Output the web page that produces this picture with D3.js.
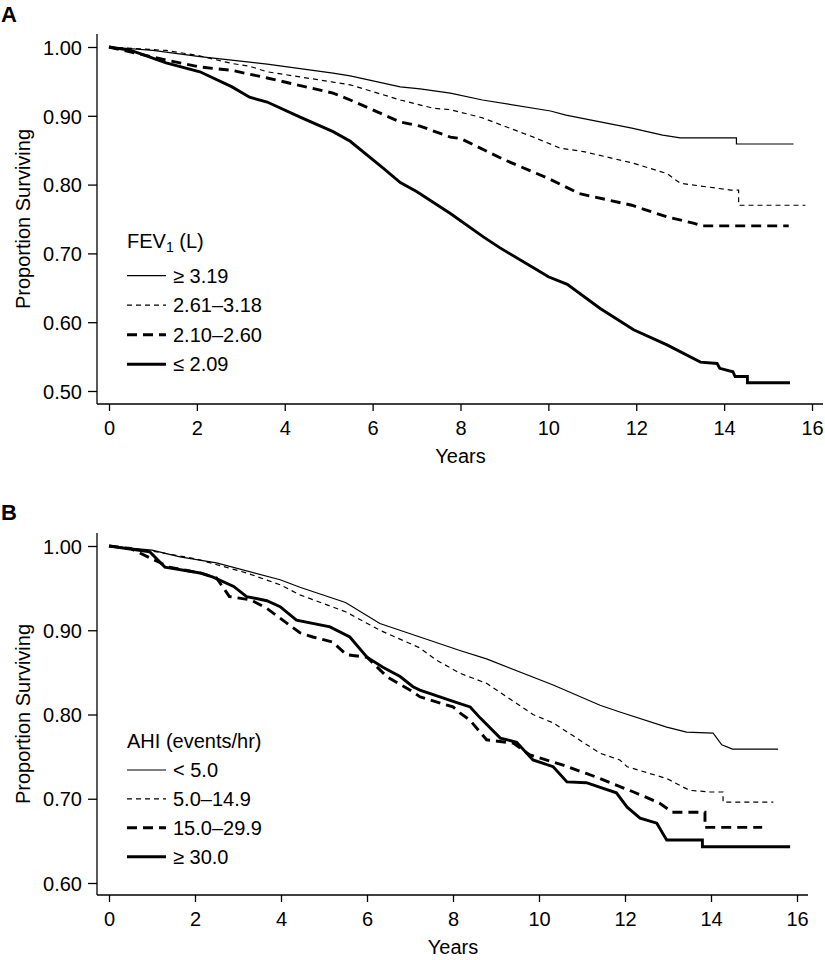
<!DOCTYPE html>
<html><head><meta charset="utf-8">
<script src="https://cdn.jsdelivr.net/npm/d3@7"></script>
<style>
body{margin:0;background:#fff;}
text{font-family:"Liberation Sans",Arial,Helvetica,sans-serif;fill:#000;}
</style></head>
<body>
<svg id="chart" width="825" height="960"></svg>
<script>
// ---------- DATA ----------
const xTicks = [0,2,4,6,8,10,12,14,16];
const yTicksA = [0.5,0.6,0.7,0.8,0.9,1.0];
const yTicksB = [0.6,0.7,0.8,0.9,1.0];

const legendA = ["\u2265 3.19","2.61\u20133.18","2.10\u20132.60","\u2264 2.09"];
const legendB = ["< 5.0","5.0\u201314.9","15.0\u201329.9","\u2265 30.0"];

// Panel A: FEV1 groups  [years, proportion surviving]
const fevHigh = [[0,1],[1.0,0.995],[2.07,0.986],[3.2,0.978],[3.6,0.975],[5.1,0.962],[5.49,0.958],[6.63,0.942],[7.08,0.939],[7.77,0.933],[8.5,0.923],[10.05,0.907],[10.4,0.901],[11.9,0.882],[12.6,0.872],[13.0,0.868],[14.28,0.868],[14.28,0.859],[15.58,0.859]];
const fevMid = [[0,1],[1.3,0.995],[2.0,0.988],[2.8,0.976],[3.2,0.972],[3.6,0.964],[5.1,0.949],[5.49,0.945],[6.63,0.923],[7.38,0.911],[7.77,0.909],[8.5,0.897],[9.66,0.869],[10.27,0.853],[10.8,0.848],[11.94,0.831],[12.7,0.816],[13.0,0.802],[14.15,0.792],[14.33,0.792],[14.33,0.770],[15.85,0.770]];
const fevLow = [[0,1],[1.3,0.981],[2.07,0.971],[2.8,0.966],[3.6,0.955],[5.1,0.933],[5.49,0.923],[6.63,0.891],[7.08,0.885],[7.77,0.869],[8.0,0.867],[9.0,0.836],[10.0,0.809],[10.7,0.787],[11.9,0.770],[12.7,0.753],[13.3,0.744],[13.5,0.740],[15.47,0.740]];
const fevVLow = [[0,1],[0.5,0.995],[1.3,0.977],[2.07,0.964],[2.8,0.942],[3.2,0.927],[3.6,0.920],[4.35,0.898],[5.1,0.877],[5.49,0.863],[6.24,0.824],[6.63,0.803],[7.0,0.790],[7.77,0.758],[8.52,0.724],[8.9,0.708],[9.66,0.679],[10.0,0.666],[10.43,0.655],[11.18,0.620],[11.94,0.589],[12.7,0.567],[13.46,0.542],[13.84,0.540],[13.9,0.533],[14.2,0.528],[14.25,0.521],[14.53,0.521],[14.53,0.512],[15.5,0.512]];

// Panel B: AHI groups
const ahi1 = [[0,1],[1.0,0.995],[1.65,0.987],[2.5,0.980],[3.98,0.960],[4.44,0.951],[5.5,0.933],[6.3,0.908],[7.23,0.892],[8.16,0.876],[8.78,0.866],[10.33,0.835],[11.42,0.811],[11.88,0.803],[12.97,0.785],[13.43,0.779],[14.05,0.778],[14.25,0.764],[14.5,0.759],[15.56,0.759]];
const ahi2 = [[0,1],[1.0,0.994],[2.0,0.985],[3.2,0.968],[3.98,0.954],[4.44,0.942],[5.5,0.922],[6.3,0.900],[7.23,0.879],[7.6,0.865],[8.16,0.849],[8.78,0.837],[9.86,0.800],[10.33,0.790],[11.42,0.754],[11.88,0.746],[12.05,0.738],[12.97,0.724],[13.5,0.710],[13.98,0.708],[14.28,0.708],[14.28,0.696],[15.45,0.696]];
const ahi3 = [[0,1],[0.5,0.997],[1.4,0.975],[2.12,0.968],[2.5,0.962],[2.8,0.940],[3.3,0.936],[3.67,0.926],[4.44,0.897],[4.74,0.892],[5.2,0.886],[5.52,0.871],[6.0,0.868],[6.46,0.845],[7.07,0.827],[7.23,0.821],[8.0,0.809],[8.16,0.802],[8.4,0.793],[8.78,0.770],[9.4,0.766],[9.79,0.752],[10.56,0.740],[11.1,0.730],[11.42,0.724],[12.2,0.708],[12.8,0.695],[13.1,0.684],[13.86,0.684],[13.86,0.666],[15.19,0.666]];
const ahi4 = [[0,1],[0.95,0.993],[1.3,0.975],[2.12,0.968],[2.42,0.963],[2.9,0.952],[3.2,0.940],[3.67,0.935],[3.98,0.928],[4.36,0.912],[5.14,0.904],[5.6,0.892],[6.0,0.868],[6.37,0.856],[6.77,0.845],[7.07,0.833],[7.23,0.829],[8.16,0.813],[8.4,0.809],[8.63,0.796],[9.1,0.772],[9.48,0.767],[9.86,0.746],[10.33,0.738],[10.65,0.720],[11.1,0.719],[11.8,0.707],[12.05,0.690],[12.35,0.677],[12.74,0.671],[12.9,0.657],[12.97,0.651],[13.8,0.651],[13.8,0.643],[15.84,0.643]];

// ---------- STYLES ----------
const styles = [
  {w:1.2, dash:null},
  {w:1.2, dash:"5,4"},
  {w:2.9, dash:"10,6"},
  {w:2.9, dash:null}
];

const svg = d3.select("#chart");
const FS = 20;

function panel(cfg){
  const g = svg.append("g");
  const x = d3.scaleLinear().domain([0,16]).range([109, cfg.x16]);
  const y = d3.scaleLinear().domain(cfg.yDom).range(cfg.yRange);

  // axis lines (L shape)
  g.append("line").attr("x1",97).attr("x2",97).attr("y1",cfg.axTop).attr("y2",cfg.axBot)
    .attr("stroke","#000").attr("stroke-width",1.3);
  g.append("line").attr("x1",97).attr("x2",cfg.axRight).attr("y1",cfg.axBot).attr("y2",cfg.axBot)
    .attr("stroke","#000").attr("stroke-width",1.3);

  const xa = g.append("g").attr("transform",`translate(0,${cfg.axBot})`)
    .call(d3.axisBottom(x).tickValues(xTicks).tickSize(7).tickPadding(10).tickFormat(d3.format("d")));
  xa.select(".domain").remove();
  xa.selectAll("line").attr("stroke","#000").attr("stroke-width",1.3);
  xa.selectAll("text").attr("font-size",FS).attr("dy",null).attr("y",31).attr("font-family",null);

  const ya = g.append("g").attr("transform","translate(97,0)")
    .call(d3.axisLeft(y).tickValues(cfg.yTicks).tickSize(9).tickPadding(6).tickFormat(d3.format(".2f")));
  ya.select(".domain").remove();
  ya.selectAll("line").attr("stroke","#000").attr("stroke-width",1.3);
  ya.selectAll("text").attr("font-size",FS).attr("font-family",null).attr("x",-15).attr("dy","0.36em");

  g.append("text").attr("x",(109+cfg.x16)/2).attr("y",cfg.axBot+59).attr("text-anchor","middle")
    .attr("font-size",FS).text("Years");
  g.append("text").attr("transform",`translate(30,${(cfg.axTop+cfg.axBot)/2}) rotate(-90)`)
    .attr("text-anchor","middle").attr("font-size",FS).text("Proportion Surviving");

  g.append("text").attr("x",1).attr("y",cfg.letterY).attr("font-size",22).attr("font-weight","bold").text(cfg.letter);

  const line = d3.line().x(d=>x(d[0])).y(d=>y(d[1])).curve(d3.curveLinear);
  cfg.series.forEach((s,i)=>{
    g.append("path").datum(s).attr("d",line).attr("fill","none").attr("stroke","#000")
      .attr("stroke-width",styles[i].w).attr("stroke-dasharray",styles[i].dash)
      .attr("stroke-linejoin","miter");
  });

  const lg = g.append("g");
  const title = lg.append("text").attr("x",127).attr("y",cfg.legTitleY).attr("font-size",FS);
  cfg.legTitle(title);
  cfg.labels.forEach((lab,i)=>{
    const ly = cfg.legY0 + i*cfg.legStep;
    lg.append("line").attr("x1",127).attr("x2",166).attr("y1",ly).attr("y2",ly)
      .attr("stroke","#000").attr("stroke-width",styles[i].w).attr("stroke-dasharray",styles[i].dash);
    lg.append("text").attr("x",173).attr("y",ly+7).attr("font-size",FS).text(lab);
  });
}

panel({
  letter:"A", letterY:22,
  x16:812, axRight:823, axTop:34, axBot:404,
  yDom:[0.5,1.0], yRange:[391,47], yTicks:yTicksA,
  series:[fevHigh,fevMid,fevLow,fevVLow],
  labels:legendA,
  legTitleY:248,
  legTitle:(t)=>{ t.append("tspan").text("FEV");
                  t.append("tspan").attr("font-size",14).attr("dy",4).text("1");
                  t.append("tspan").attr("dy",-4).text(" (L)"); },
  legY0:275.7, legStep:29.5
});

panel({
  letter:"B", letterY:520,
  x16:797, axRight:808, axTop:533, axBot:895,
  yDom:[0.6,1.0], yRange:[883,546], yTicks:yTicksB,
  series:[ahi1,ahi2,ahi3,ahi4],
  labels:legendB,
  legTitleY:748,
  legTitle:(t)=>{ t.text("AHI (events/hr)"); },
  legY0:770, legStep:28.9
});
</script>
</body></html>
